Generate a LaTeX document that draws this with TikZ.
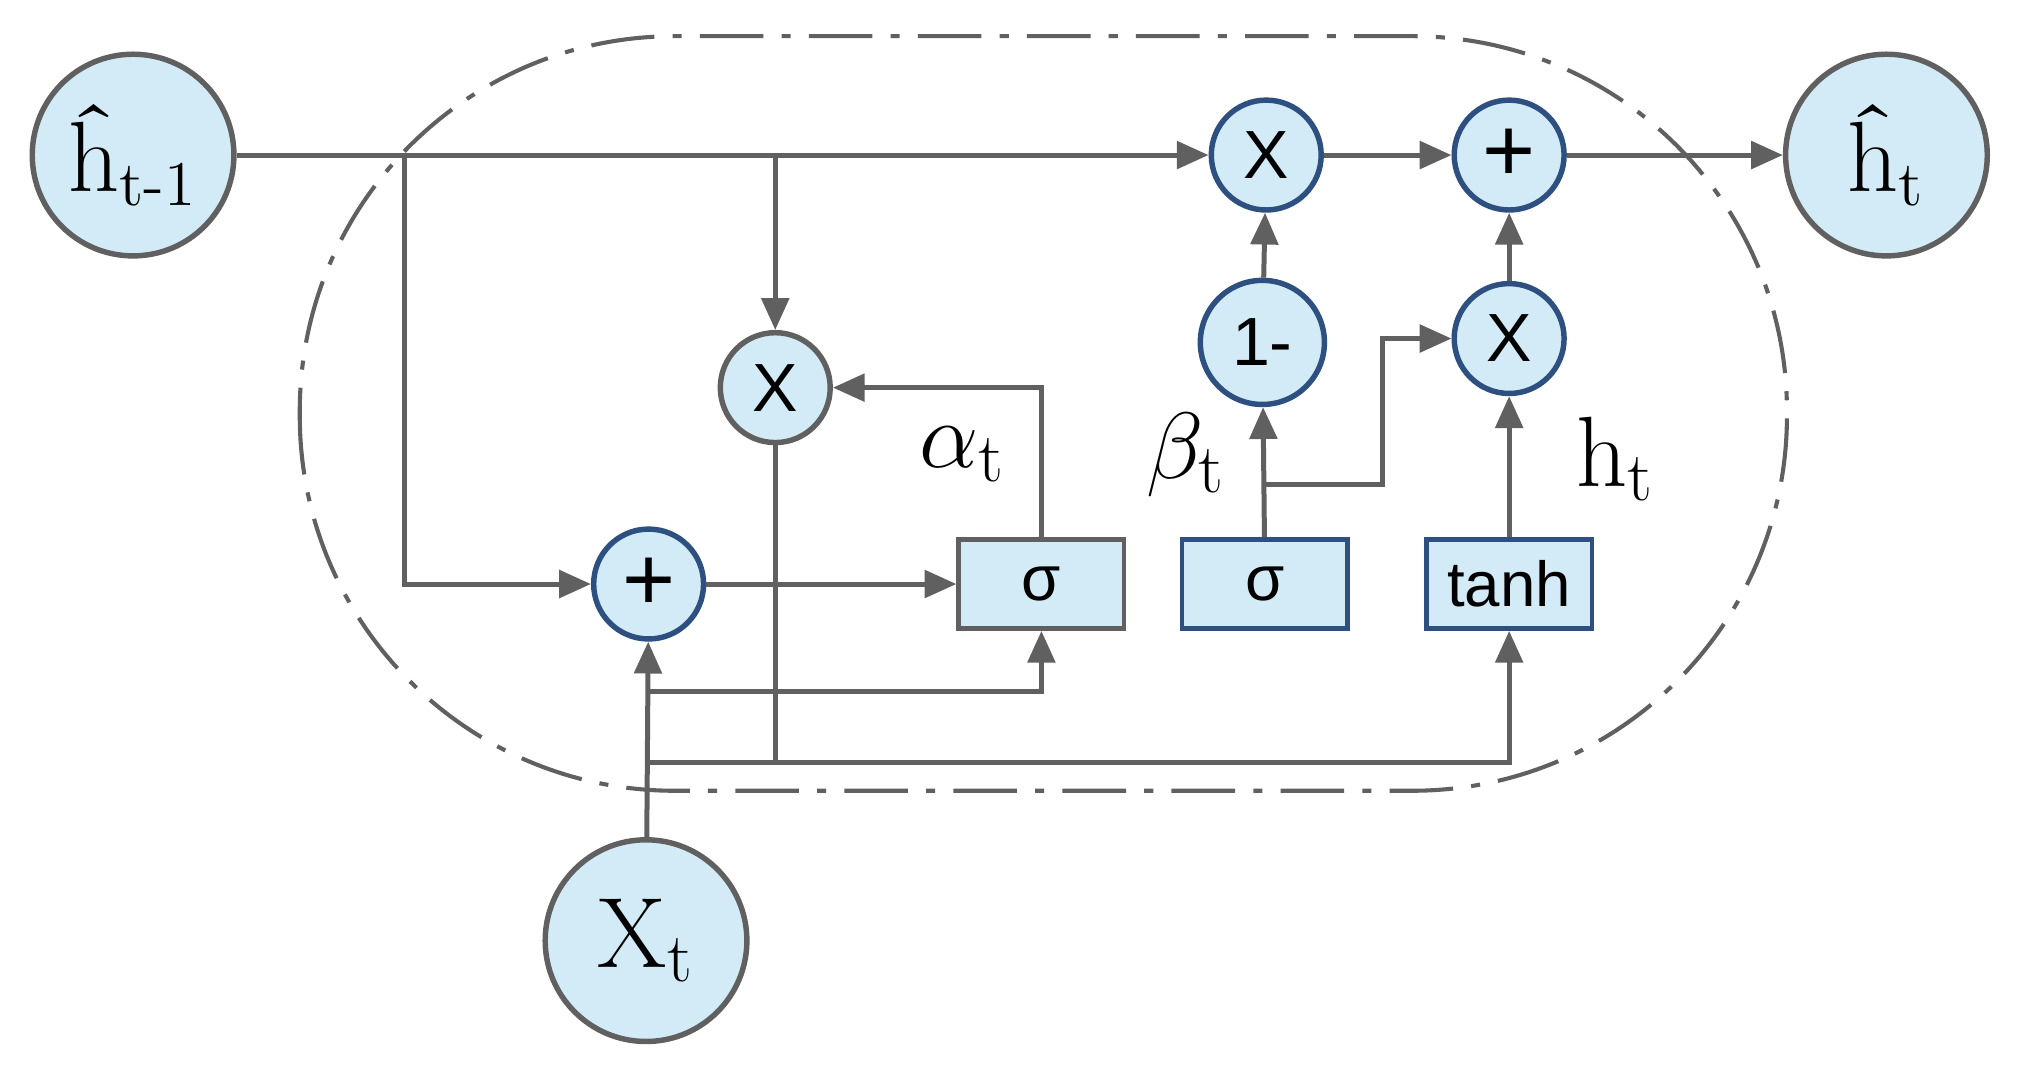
\documentclass[tikz,border=0pt]{standalone}
\usepackage{fontspec}
\newfontfamily\sff{Liberation Sans}
\usetikzlibrary{arrows.meta}
\definecolor{cfill}{HTML}{D3EBF7}
\definecolor{cbord}{HTML}{2E5080}
\definecolor{cline}{HTML}{606060}
\begin{document}
\begin{tikzpicture}[x=0.01cm,y=-0.01cm,
  big/.style={circle,draw=cline,line width=1.2pt,fill=cfill,minimum size=1.56cm,inner sep=0pt,font=\fontsize{22}{24}\selectfont},
  op/.style={circle,draw=cbord,line width=1.2pt,fill=cfill,minimum size=0.85cm,inner sep=0pt,font=\sff\fontsize{15}{16}\selectfont},
  box/.style={draw=cbord,line width=1pt,fill=cfill,minimum width=1.28cm,minimum height=0.69cm,inner sep=0pt,font=\sff\fontsize{14}{16}\selectfont},
  ln/.style={draw=cline,line width=1.1pt},
  ar/.style={ln,-{Triangle[length=7pt,width=6pt]}},
  lab/.style={font=\fontsize{22}{24}\selectfont}]
\useasboundingbox (0,0) rectangle (1568,842);
\draw[cline,line width=0.9pt,dash pattern=on 14pt off 4pt on 2pt off 4pt,rounded corners=2.9cm] (232,28) rectangle (1383,612);
\node[big] (hp) at (103,120) {ĥ\textsubscript{\fontsize{14}{14}\selectfont t-1}};
\node[big] (ht) at (1460,120) {ĥ\textsubscript{\fontsize{14}{14}\selectfont t}};
\node[big] (xt) at (500,728) {$\mathrm{X}_{\mathrm{t}}$};
\node[op] (m1) at (980,120) {X};
\node[op,font=\sff\fontsize{20}{20}\selectfont] (p1) at (1168,120) {+};
\node[op,minimum size=0.96cm] (om) at (977,265) {1-};
\node[op] (m2) at (1168,262) {X};
\node[op,draw=cline] (m3) at (600,300) {X};
\node[op,font=\sff\fontsize{20}{20}\selectfont] (p2) at (502,452) {+};
\node[box,draw=cline] (s1) at (806,452) {σ};
\node[box] (s2) at (979,452) {σ};
\node[box] (th) at (1168,452) {tanh};
\node[lab] (la) at (745,352) {$\alpha_{\mathrm{t}}$};
\node[lab] (lb) at (918,352) {$\beta_{\mathrm{t}}$};
\node[lab] (lh) at (1250,355) {$\mathrm{h}_{\mathrm{t}}$};
\coordinate (a1) at (313,120);
\coordinate (a2) at (600,120);
\coordinate (b1) at (500,535);
\coordinate (b2) at (500,590);
\coordinate (b3) at (600,590);
\coordinate (c1) at (979,375);
\draw[ar] (hp) -- (m1);
\draw[ar] (m1) -- (p1);
\draw[ar] (p1) -- (ht);
\draw[ar] (a2) -- (m3);
\draw[ar] (a1) |- (p2);
\draw[ar] (p2) -- (s1);
\draw[ar] (s1.north) |- (m3.east);
\draw[ln] (m3) -- (b3);
\draw[ar] (xt) -- (p2);
\draw[ar] (b1) -| (s1.south);
\draw[ar] (b2) -| (th.south);
\draw[ar] (s2) -- (om);
\draw[ar] (c1) -- (1070,375) |- (m2.west);
\draw[ar] (om) -- (m1);
\draw[ar] (th) -- (m2);
\draw[ar] (m2) -- (p1);
\end{tikzpicture}
\end{document}
